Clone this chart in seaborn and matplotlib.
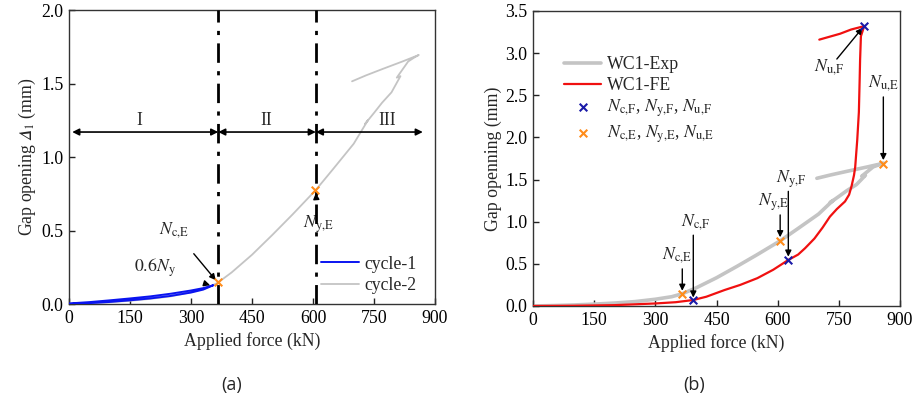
import matplotlib
matplotlib.use("Agg")
import matplotlib.pyplot as plt
import seaborn as sns
import numpy as np
import pandas as pd

# ---------------- data ----------------
# cycle-1 (blue) loading/unloading loop
c1_force = [0, 50, 100, 150, 200, 250, 300, 330, 355, 330, 300, 250, 200, 150, 100, 50, 0]
c1_gap = [0.0, 0.006, 0.014, 0.025, 0.038, 0.055, 0.078, 0.098, 0.128, 0.108, 0.092,
          0.070, 0.052, 0.038, 0.025, 0.013, 0.004]

# experimental curve (cycle-2 / WC1-Exp)
exp_force = [0, 50, 100, 150, 200, 250, 300, 340, 366, 400, 450, 500, 550, 607, 650, 700,
             735, 728, 750, 770, 793, 815, 806, 834, 848, 860, 820, 772, 730, 696]
exp_gap = [0.0, 0.005, 0.012, 0.022, 0.035, 0.052, 0.080, 0.110, 0.145, 0.215, 0.335, 0.470,
           0.610, 0.776, 0.920, 1.090, 1.250, 1.225, 1.300, 1.370, 1.440, 1.550, 1.540, 1.650,
           1.675, 1.694, 1.650, 1.600, 1.555, 1.515]

# finite element curve (WC1-FE)
fe_force = [0, 100, 200, 300, 350, 393, 425, 470, 508, 550, 589, 626, 650, 667, 690, 710, 728,
            745, 765, 775, 781, 787, 790, 795, 799, 801, 802, 804, 812, 780, 753, 702]
fe_gap = [0.0, 0.003, 0.010, 0.030, 0.045, 0.071, 0.110, 0.190, 0.250, 0.330, 0.430, 0.546,
          0.610, 0.685, 0.800, 0.930, 1.060, 1.150, 1.240, 1.320, 1.420, 1.550, 1.650, 1.970,
          2.300, 2.700, 2.920, 3.200, 3.320, 3.280, 3.230, 3.160]

# characteristic points
e_force = [366, 606, 859]      # N_c,E  N_y,E  N_u,E
e_gap = [0.147, 0.776, 1.690]
f_force = [393, 626, 812]      # N_c,F  N_y,F  N_u,F
f_gap = [0.071, 0.546, 3.320]

# stage boundaries (panel a)
stage_bounds = [367, 607]
stage_labels = ["I", "II", "III"]

x_ticks = [0, 150, 300, 450, 600, 750, 900]

# ---------------- style ----------------
sns.set_theme(style="ticks")
plt.rcParams["font.family"] = ["Liberation Serif", "DejaVu Serif"]
plt.rcParams["mathtext.fontset"] = "stix"
plt.rcParams["axes.linewidth"] = 1.0
plt.rcParams["axes.edgecolor"] = "#333333"

GRAY = "#c4c4c4"
BLUE = "#0a14f0"
RED = "#f01010"
MBLUE = "#1a1aa8"
ORANGE = "#ff8c1a"
FS = 12.8

fig = plt.figure(figsize=(9.16, 4.11), dpi=100)
ax1 = fig.add_axes([0.0753, 0.2603, 0.3996, 0.7153])
ax2 = fig.add_axes([0.5819, 0.2555, 0.4007, 0.7178])

df_c1 = pd.DataFrame({"force": c1_force, "gap": c1_gap})
df_exp = pd.DataFrame({"force": exp_force, "gap": exp_gap})
df_fe = pd.DataFrame({"force": fe_force, "gap": fe_gap})

# ---------------- panel (a) ----------------
sns.lineplot(data=df_exp, x="force", y="gap", sort=False, estimator=None, ax=ax1,
             color=GRAY, lw=1.3, label="cycle-2", zorder=2)
sns.lineplot(data=df_c1, x="force", y="gap", sort=False, estimator=None, ax=ax1,
             color=BLUE, lw=1.4, label="cycle-1", zorder=3)
sns.scatterplot(x=[e_force[0], e_force[1]], y=[e_gap[0], e_gap[1]], ax=ax1, marker="x",
                color=ORANGE, s=30, linewidth=1.5, zorder=5)

for xb in stage_bounds:
    ax1.axvline(xb, color="black", lw=2.0, ls=(0, (7, 3, 1.5, 3)), zorder=4)

y_arrow = 1.17
segs = [(8, stage_bounds[0]), (stage_bounds[0], stage_bounds[1]), (stage_bounds[1], 870)]
label_x = [174, 486, 783]
for (a, b), lab, lx in zip(segs, stage_labels, label_x):
    ax1.annotate("", xy=(a, y_arrow), xytext=(b, y_arrow),
                 arrowprops=dict(arrowstyle="<|-|>", color="black", lw=1.2,
                                 mutation_scale=10, shrinkA=0, shrinkB=0))
    ax1.text(lx, 1.25, lab, ha="center", va="center", fontsize=FS)

ax1.annotate(r"$N_{\mathrm{c{,}E}}$", xy=(361, 0.162), xytext=(258, 0.505),
             ha="center", va="center", fontsize=FS,
             arrowprops=dict(arrowstyle="-|>", color="black", lw=1.0, mutation_scale=9,
                             shrinkA=10, shrinkB=0))
ax1.annotate(r"$0.6N_{\mathrm{y}}$", xy=(347, 0.128), xytext=(211, 0.245),
             ha="center", va="center", fontsize=FS,
             arrowprops=dict(arrowstyle="-|>", color="black", lw=1.0, mutation_scale=9,
                             shrinkA=19, shrinkB=0))
ax1.annotate(r"$N_{\mathrm{y{,}E}}$", xy=(607, 0.755), xytext=(613, 0.54),
             ha="center", va="center", fontsize=FS,
             arrowprops=dict(arrowstyle="-|>", color="black", lw=1.0, mutation_scale=9,
                             shrinkA=9, shrinkB=0))

h, l = ax1.get_legend_handles_labels()
order = [l.index("cycle-1"), l.index("cycle-2")]
ax1.legend([h[i] for i in order], [l[i] for i in order], loc="lower right", frameon=False,
           fontsize=FS, handlelength=2.1, handletextpad=0.3, borderaxespad=0.0,
           labelspacing=0.25, bbox_to_anchor=(0.968, 0.01))

ax1.set_xlim(0, 900)
ax1.set_ylim(0, 2.0)
ax1.set_xticks(x_ticks)
ax1.set_yticks([0, 0.5, 1.0, 1.5, 2.0])
ax1.set_yticklabels(["0.0", "0.5", "1.0", "1.5", "2.0"])
ax1.set_xlabel("Applied force (kN)", fontsize=FS, labelpad=4)
ax1.set_ylabel("Gap opening $\U0001D6E5_{\\mathrm{1}}$ (mm)", fontsize=FS, labelpad=2)

# ---------------- panel (b) ----------------
sns.lineplot(data=df_exp, x="force", y="gap", sort=False, estimator=None, ax=ax2,
             color=GRAY, lw=2.6, label="WC1-Exp", zorder=2)
sns.lineplot(data=df_fe, x="force", y="gap", sort=False, estimator=None, ax=ax2,
             color=RED, lw=1.6, label="WC1-FE", zorder=3)
sns.scatterplot(x=f_force, y=f_gap, ax=ax2, marker="x", color=MBLUE, s=30, linewidth=1.5,
                zorder=5, label=r"$N_{\mathrm{c{,}F}}$, $N_{\mathrm{y{,}F}}$, $N_{\mathrm{u{,}F}}$")
sns.scatterplot(x=e_force, y=e_gap, ax=ax2, marker="x", color=ORANGE, s=30, linewidth=1.5,
                zorder=5, label=r"$N_{\mathrm{c{,}E}}$, $N_{\mathrm{y{,}E}}$, $N_{\mathrm{u{,}E}}$")

arr = dict(arrowstyle="-|>", color="black", lw=1.0, mutation_scale=9, shrinkA=0, shrinkB=0)
# vertical arrows
ax2.annotate("", xy=(366, 0.18), xytext=(366, 0.44), arrowprops=arr)
ax2.text(353, 0.60, r"$N_{\mathrm{c{,}E}}$", ha="center", va="center", fontsize=FS)
ax2.annotate("", xy=(393, 0.10), xytext=(393, 0.84), arrowprops=arr)
ax2.text(398, 1.00, r"$N_{\mathrm{c{,}F}}$", ha="center", va="center", fontsize=FS)
ax2.annotate("", xy=(606, 0.815), xytext=(606, 1.08), arrowprops=arr)
ax2.text(590, 1.23, r"$N_{\mathrm{y{,}E}}$", ha="center", va="center", fontsize=FS)
ax2.annotate("", xy=(626, 0.585), xytext=(626, 1.36), arrowprops=arr)
ax2.text(632, 1.51, r"$N_{\mathrm{y{,}F}}$", ha="center", va="center", fontsize=FS)
ax2.annotate("", xy=(859, 1.73), xytext=(859, 2.48), arrowprops=arr)
ax2.text(860, 2.64, r"$N_{\mathrm{u{,}E}}$", ha="center", va="center", fontsize=FS)
ax2.annotate("", xy=(808, 3.30), xytext=(745, 2.93), arrowprops=arr)
ax2.text(727, 2.83, r"$N_{\mathrm{u{,}F}}$", ha="center", va="center", fontsize=FS)

ax2.legend(loc="upper left", frameon=False, fontsize=FS, handlelength=2.1,
           handletextpad=0.3, labelspacing=0.22, bbox_to_anchor=(0.065, 0.872),
           borderaxespad=0.0)

ax2.set_xlim(0, 900)
ax2.set_ylim(0, 3.5)
ax2.set_xticks(x_ticks)
ax2.set_yticks([0, 0.5, 1.0, 1.5, 2.0, 2.5, 3.0, 3.5])
ax2.set_yticklabels(["0.0", "0.5", "1.0", "1.5", "2.0", "2.5", "3.0", "3.5"])
ax2.set_xlabel("Applied force (kN)", fontsize=FS, labelpad=4)
ax2.set_ylabel("Gap openning (mm)", fontsize=FS, labelpad=2)

for ax in (ax1, ax2):
    ax.tick_params(direction="in", length=4, width=1.0, labelsize=FS, pad=4,
                   top=False, right=False, colors="#222222", labelcolor="black")
    for sp in ax.spines.values():
        sp.set_visible(True)

fig.text(0.253, 0.063, "(a)", ha="center", va="center", fontsize=13,
         family=["Open Sans", "DejaVu Sans"])
fig.text(0.758, 0.063, "(b)", ha="center", va="center", fontsize=13,
         family=["Open Sans", "DejaVu Sans"])

fig.savefig("out.png", dpi=100)
